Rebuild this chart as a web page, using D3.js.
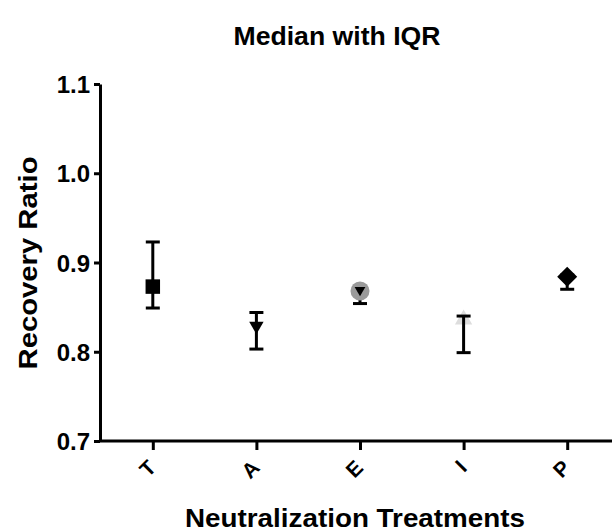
<!DOCTYPE html>
<html>
    <head>
        <meta charset="utf-8" />
        <title>Median with IQR</title>
        <script src="https://d3js.org/d3.v7.min.js"></script>
        <style>
            body {
                margin: 0;
                background: #fff;
            }
            * {
                font-family: 'Liberation Sans', Arial, sans-serif;
                font-weight: bold;
            }
            .axis path,
            .axis line {
                stroke: black;
                stroke-width: 3px;
            }
        </style>
    </head>
    <body>
        <script>
            // values
            const categories = ['T', 'A', 'E', 'I', 'P'];
            const medians = [0.873, 0.829, 0.868, 0.836, 0.884];
            const q1 = [0.849, 0.803, 0.854, 0.799, 0.87];
            const q3 = [0.923, 0.844, 0.871, 0.84, 0.886];
            const yTicks = [0.7, 0.8, 0.9, 1.0, 1.1];

            // marker look for each treatment
            const markers = {
                T: { type: d3.symbolSquare, size: 210, fill: '#000', rotate: 0 },
                A: { type: d3.symbolTriangle, size: 90, fill: '#000', rotate: 180 },
                E: { type: d3.symbolCircle, size: 285, fill: '#9a9a9a', rotate: 0 },
                I: { type: d3.symbolTriangle, size: 130, fill: '#dddddd', rotate: 0, behind: true },
                P: { type: d3.symbolSquare, size: 200, fill: '#000', rotate: 45 }
            };

            const width = 612,
                height = 531;
            const plotLeft = 100,
                plotTop = 84,
                plotBottom = 441;

            const svg = d3.select('body').append('svg').attr('width', width).attr('height', height);

            const x = d3.scalePoint().domain(categories).range([101, 619]).padding(0.5);
            const y = d3.scaleLinear().domain([0.7, 1.1]).range([plotBottom, plotTop]);

            const data = categories.map((c, i) => ({ c: c, med: medians[i], lo: q1[i], hi: q3[i] }));

            // axes
            const yAxis = svg
                .append('g')
                .attr('class', 'axis')
                .attr('transform', `translate(${plotLeft},0)`)
                .call(d3.axisLeft(y).tickValues(yTicks).tickFormat(d3.format('.1f')).tickSize(6).tickSizeOuter(0));
            yAxis
                .selectAll('text')
                .style('font-size', '24px')
                .attr('fill', '#000')
                .attr('x', -10)
                .attr('dy', '0.36em');

            const xAxis = svg
                .append('g')
                .attr('class', 'axis')
                .attr('transform', `translate(0,${plotBottom})`)
                .call(d3.axisBottom(x).tickSize(9).tickSizeOuter(0));
            xAxis.select('.domain').attr('d', `M${plotLeft},0H${width + 10}`);
            xAxis
                .selectAll('text')
                .style('font-size', '21px')
                .attr('fill', '#000')
                .attr('text-anchor', 'end')
                .attr('dy', null)
                .attr('y', 0)
                .attr('transform', 'translate(4,28) rotate(-45)');

            function symbolPath(m) {
                return d3.symbol().type(m.type).size(m.size)();
            }

            function drawMarker(d) {
                const m = markers[d.c];
                svg.append('path')
                    .attr('d', symbolPath(m))
                    .attr('fill', m.fill)
                    .attr('transform', `translate(${x(d.c)},${y(d.med)}) rotate(${m.rotate})`);
                if (d.c === 'E') {
                    svg.append('path')
                        .attr('d', d3.symbol().type(d3.symbolTriangle).size(50)())
                        .attr('fill', '#000')
                        .attr('transform', `translate(${x(d.c)},${y(d.med) - 1}) rotate(180)`);
                }
            }

            // markers that sit under the bars
            data.filter((d) => markers[d.c].behind).forEach(drawMarker);

            // IQR bars
            const bars = svg.append('g').attr('stroke', '#000').attr('stroke-width', 3);
            data.forEach((d) => {
                const cx = x(d.c);
                bars.append('line').attr('x1', cx).attr('x2', cx).attr('y1', y(d.lo)).attr('y2', y(d.hi));
                [d.lo, d.hi].forEach((v) => {
                    bars.append('line')
                        .attr('x1', cx - 7)
                        .attr('x2', cx + 7)
                        .attr('y1', y(v))
                        .attr('y2', y(v));
                });
            });

            data.filter((d) => !markers[d.c].behind).forEach(drawMarker);

            // titles
            svg.append('text')
                .attr('x', 337)
                .attr('y', 45)
                .attr('text-anchor', 'middle')
                .attr('textLength', 207)
                .attr('lengthAdjust', 'spacingAndGlyphs')
                .style('font-size', '25px')
                .text('Median with IQR');

            svg.append('text')
                .attr('transform', `translate(37,263) rotate(-90)`)
                .attr('text-anchor', 'middle')
                .attr('textLength', 213)
                .attr('lengthAdjust', 'spacingAndGlyphs')
                .style('font-size', '25px')
                .text('Recovery Ratio');

            svg.append('text')
                .attr('x', 355)
                .attr('y', 527)
                .attr('text-anchor', 'middle')
                .attr('textLength', 340)
                .attr('lengthAdjust', 'spacingAndGlyphs')
                .style('font-size', '25px')
                .text('Neutralization Treatments');
        </script>
    </body>
</html>
